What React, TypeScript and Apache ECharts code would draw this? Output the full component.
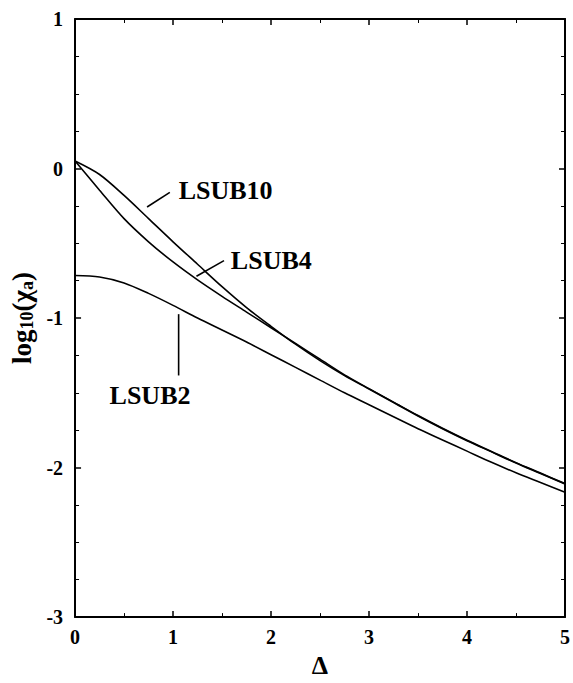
import React, { useEffect, useRef } from "react";
import * as echarts from "echarts";

const DELTA = [0, 0.25, 0.5, 0.75, 1, 1.25, 1.5, 1.75, 2, 2.25, 2.5, 2.75, 3, 3.25, 3.5, 3.75, 4, 4.25, 4.5, 4.75, 5];
const LSUB10 = [0.05, -0.04, -0.18, -0.335, -0.49, -0.64, -0.79, -0.93, -1.055, -1.175, -1.285, -1.385, -1.475, -1.565, -1.655, -1.74, -1.82, -1.895, -1.97, -2.04, -2.11];
const LSUB4 = [0.05, -0.145, -0.335, -0.49, -0.625, -0.745, -0.855, -0.96, -1.065, -1.17, -1.275, -1.38, -1.472, -1.562, -1.652, -1.737, -1.817, -1.892, -1.967, -2.037, -2.107];
const LSUB2 = [-0.715, -0.725, -0.765, -0.835, -0.915, -1.0, -1.08, -1.16, -1.245, -1.33, -1.415, -1.5, -1.58, -1.66, -1.74, -1.815, -1.89, -1.965, -2.035, -2.1, -2.165];

const SERIES_NAMES = ["LSUB10", "LSUB4", "LSUB2"];
const SERIES_VALUES = [LSUB10, LSUB4, LSUB2];

// annotation anchors in data coordinates
const ANNOT_TEXT_AT = [[1.057, -0.147], [1.59, -0.616], [0.352, -1.515]];
const ANNOT_LINE_FROM = [[0.735, -0.257], [1.239, -0.72], [1.057, -0.974]];
const ANNOT_LINE_TO = [[0.967, -0.16], [1.52, -0.616], [1.057, -1.384]];

const FONT = "'Liberation Serif', 'Times New Roman', serif";

export default function App() {
  const ref = useRef<HTMLDivElement>(null);
  useEffect(() => {
    document.body.style.margin = "0";
    const chart = echarts.init(ref.current!, null, { renderer: "svg" });
    const axisCommon = {
      type: "value" as const,
      axisLine: { show: true, onZero: false, lineStyle: { color: "#000", width: 2 } },
      axisTick: { show: true, inside: true, length: 6, lineStyle: { color: "#000", width: 1.5 } },
      minorTick: { show: true, length: 4, lineStyle: { color: "#000", width: 1 } },
      splitLine: { show: false },
    };
    chart.setOption({
      animation: false,
      backgroundColor: "#fff",
      grid: { left: 72, right: 5, top: 19, bottom: 50, containLabel: false },
      xAxis: [
        {
          ...axisCommon,
          min: 0, max: 5, interval: 1,
          minorTick: { ...axisCommon.minorTick, splitNumber: 2 },
          position: "bottom",
          axisLabel: { color: "#000", fontFamily: FONT, fontWeight: "bold", fontSize: 20, margin: 10 },
          name: "Δ",
          nameLocation: "middle",
          nameGap: 28,
          nameTextStyle: { color: "#000", fontFamily: FONT, fontWeight: "bold", fontSize: 26 },
        },
        {
          ...axisCommon,
          min: 0, max: 5, interval: 1,
          minorTick: { ...axisCommon.minorTick, splitNumber: 2 },
          position: "top",
          axisLabel: { show: false },
        },
      ],
      yAxis: [
        {
          ...axisCommon,
          min: -3, max: 1, interval: 1,
          minorTick: { ...axisCommon.minorTick, splitNumber: 4 },
          position: "left",
          axisLabel: { color: "#000", fontFamily: FONT, fontWeight: "bold", fontSize: 20, margin: 12 },
          name: "log{s|10}(χ{s|a})",
          nameLocation: "middle",
          nameRotate: 90,
          nameGap: 38,
          nameTextStyle: {
            color: "#000", fontFamily: FONT, fontWeight: "bold", fontSize: 27,
            rich: {
              s: { fontFamily: FONT, fontWeight: "bold", fontSize: 18, verticalAlign: "bottom", padding: [10, 0, 0, 0], color: "#000" },
            },
          },
        },
        {
          ...axisCommon,
          min: -3, max: 1, interval: 1,
          minorTick: { ...axisCommon.minorTick, splitNumber: 4 },
          position: "right",
          axisLabel: { show: false },
        },
      ],
      series: SERIES_NAMES.map((name, i) => ({
        name,
        type: "line",
        xAxisIndex: 0,
        yAxisIndex: 0,
        smooth: 0.3,
        showSymbol: false,
        symbol: "none",
        lineStyle: { color: "#000", width: 1.6 },
        data: DELTA.map((x, j) => [x, SERIES_VALUES[i][j]]),
      })),
    });

    const px = (p: number[]) => chart.convertToPixel({ gridIndex: 0 }, p) as number[];
    const graphics: any[] = [];
    SERIES_NAMES.forEach((name, i) => {
      const a = px(ANNOT_LINE_FROM[i]);
      const b = px(ANNOT_LINE_TO[i]);
      const t = px(ANNOT_TEXT_AT[i]);
      graphics.push({
        type: "line",
        shape: { x1: a[0], y1: a[1], x2: b[0], y2: b[1] },
        style: { stroke: "#000", lineWidth: 1.6 },
      });
      graphics.push({
        type: "text",
        x: t[0],
        y: t[1],
        style: {
          text: name,
          fill: "#000",
          font: `bold 26px ${FONT}`,
          textAlign: "left",
          textVerticalAlign: "middle",
          verticalAlign: "middle",
        },
      });
    });
    chart.setOption({ graphic: graphics });

    return () => chart.dispose();
  }, []);
  return <div ref={ref} style={{ width: 573, height: 683 }} />;
}
